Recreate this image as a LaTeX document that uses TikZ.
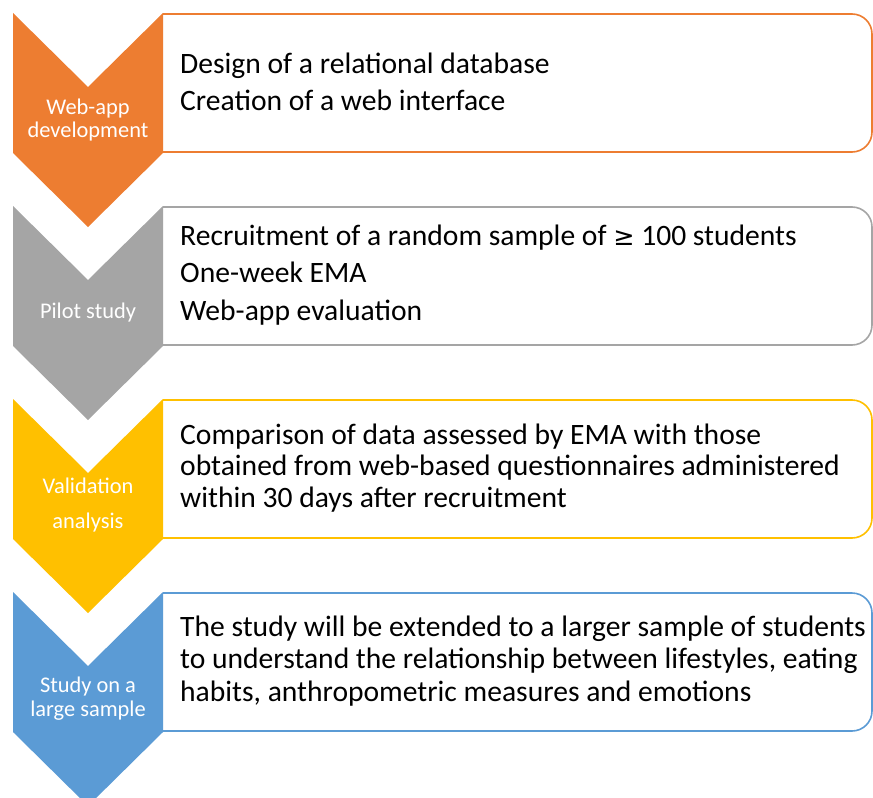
\documentclass[tikz,border=0pt]{standalone}
\usepackage{fontspec}
\setmainfont{Carlito}
\newfontfamily\symfont{DejaVu Sans}

\definecolor{webapp}{HTML}{ED7D31}
\definecolor{pilot}{HTML}{A5A5A5}
\definecolor{valid}{HTML}{FFC000}
\definecolor{large}{HTML}{5B9BD5}

\begin{document}
\begin{tikzpicture}[x=1bp,y=-1bp,
		stagelabel/.style={align=center,text=white,inner sep=0pt,
			font=\fontsize{22.5}{24}\selectfont},
		boxtext/.style={anchor=west,align=left,inner sep=0pt,
			font=\fontsize{29.7}{37.5}\selectfont},
		stepline/.style={line width=1.6bp}]
		\useasboundingbox (0,0) rectangle (873,798);
		\clip (0,0) rectangle (873,798);

		% Boxes with rounded right side, then the chevrons over their left edge
		\foreach \k/\c in {0/webapp,1/pilot,2/valid,3/large} {
			\pgfmathsetmacro{\yt}{13+193*\k}
			\fill[white] (163,\yt+1) rectangle (872,\yt+139);
			\draw[\c,stepline,rounded corners=20bp] (163,\yt+1) -- (872,\yt+1)
				-- (872,\yt+139) -- (163,\yt+139);
			\fill[\c] (13,\yt) -- (88,\yt+74) -- (163,\yt) -- (163,\yt+140)
				-- (88,\yt+214) -- (13,\yt+140) -- cycle;
		}

		% Stage names
		\node[stagelabel] (webdev) at (88,120) {Web-app\\development};
		\node[stagelabel] (pilot) at (88,313) {Pilot study};
		\node[stagelabel,font=\fontsize{22.5}{35}\selectfont] (validation) at (88,505) {Validation\\analysis};
		\node[stagelabel] (largestudy) at (88,699) {Study on a\\large sample};

		% Stage contents
		\node[boxtext] (webdevtxt) at (180,82) {Design of a relational database\\Creation of a web interface};
		\node[boxtext] (pilottxt) at (180,275) {Recruitment of a random sample of {\symfont\fontsize{25.5}{30}\selectfont ≥} 100 students\\One-week EMA\\Web-app evaluation};
		\node[boxtext,font=\fontsize{29.7}{32}\selectfont] (validtxt) at (180,468) {Comparison of data assessed by EMA with those\\obtained from web-based questionnaires administered\\within 30 days after recruitment};
		\node[boxtext,font=\fontsize{29.7}{32.5}\selectfont] (largetxt) at (180,661) {The study will be extended to a larger sample of students\\to understand the relationship between lifestyles, eating\\habits, anthropometric measures and emotions};
	\end{tikzpicture}
\end{document}
